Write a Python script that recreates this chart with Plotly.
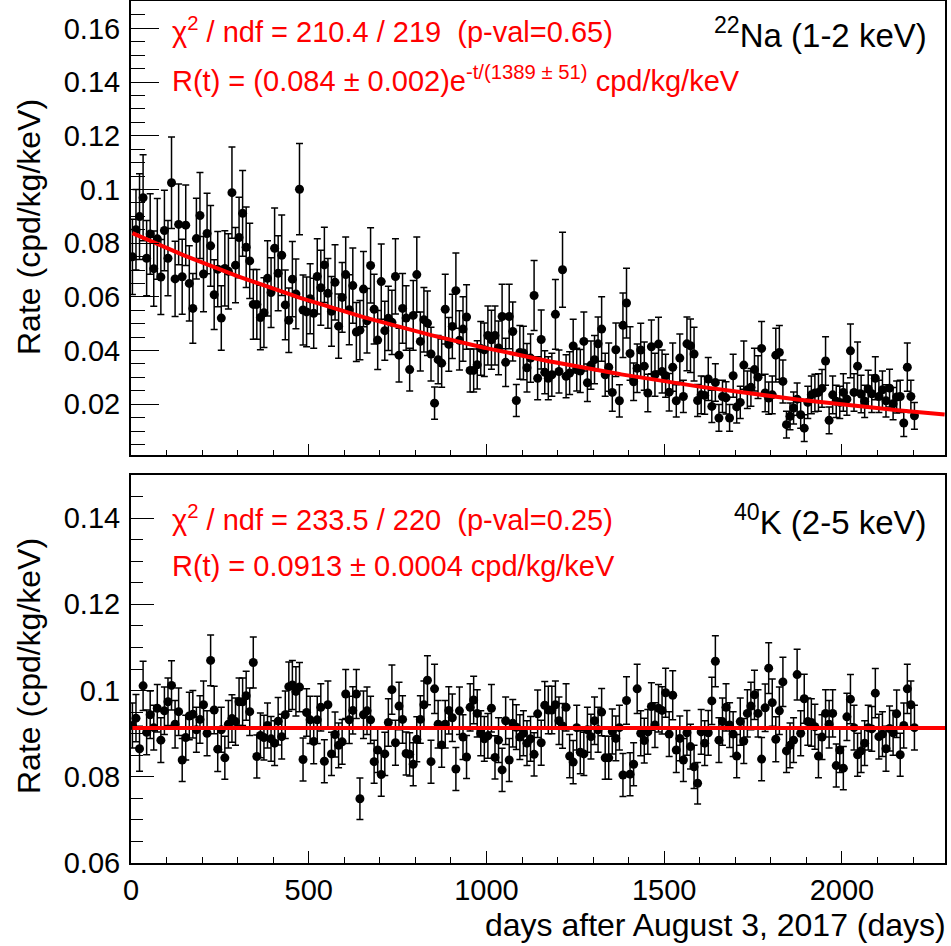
import math
import plotly.graph_objects as go

# ---------------- data ----------------
days = list(range(4, 2205, 10))  # 221 bins, 10-day spacing

na22_rate = [
    0.0749, 0.0850, 0.0899, 0.0969, 0.0744, 0.0834, 0.0705, 0.0816, 0.0674, 0.0847,
    0.0744, 0.1025, 0.0667, 0.0870, 0.0675, 0.0867, 0.0650, 0.0557, 0.0817, 0.0903,
    0.0685, 0.0836, 0.0790, 0.0608, 0.0703, 0.0521, 0.0706, 0.0695, 0.0988, 0.0718,
    0.0821, 0.0911, 0.0785, 0.0734, 0.0572, 0.0572, 0.0523, 0.0541, 0.0669, 0.0616,
    0.0781, 0.0688, 0.0755, 0.0570, 0.0513, 0.0666, 0.0611, 0.1001, 0.0551, 0.0544,
    0.0593, 0.0539, 0.0676, 0.0634, 0.0719, 0.0613, 0.0546, 0.0654, 0.0491, 0.0598,
    0.0683, 0.0552, 0.0642, 0.0469, 0.0476, 0.0629, 0.0511, 0.0717, 0.0554, 0.0439,
    0.0657, 0.0474, 0.0520, 0.0505, 0.0676, 0.0383, 0.0557, 0.0521, 0.0329, 0.0531,
    0.0683, 0.0434, 0.0515, 0.0502, 0.0387, 0.0204, 0.0366, 0.0353, 0.0554, 0.0423,
    0.0490, 0.0623, 0.0438, 0.0480, 0.0525, 0.0326, 0.0326, 0.0347, 0.0408, 0.0403,
    0.0456, 0.0440, 0.0456, 0.0410, 0.0527, 0.0356, 0.0527, 0.0471, 0.0214, 0.0393,
    0.0391, 0.0336, 0.0372, 0.0605, 0.0297, 0.0441, 0.0319, 0.0297, 0.0310, 0.0535,
    0.0322, 0.0701, 0.0304, 0.0316, 0.0417, 0.0329, 0.0324, 0.0434, 0.0280, 0.0346,
    0.0366, 0.0425, 0.0480, 0.0310, 0.0338, 0.0244, 0.0403, 0.0213, 0.0494, 0.0577,
    0.0389, 0.0284, 0.0334, 0.0402, 0.0342, 0.0242, 0.0414, 0.0310, 0.0424, 0.0322,
    0.0306, 0.0245, 0.0338, 0.0213, 0.0372, 0.0229, 0.0425, 0.0418, 0.0387, 0.0214,
    0.0235, 0.0233, 0.0294, 0.0192, 0.0281, 0.0149, 0.0229, 0.0224, 0.0149, 0.0306,
    0.0190, 0.0207, 0.0346, 0.0254, 0.0263, 0.0329, 0.0301, 0.0408, 0.0242, 0.0223,
    0.0235, 0.0383, 0.0393, 0.0285, 0.0124, 0.0155, 0.0186, 0.0219, 0.0161, 0.0111,
    0.0207, 0.0235, 0.0242, 0.0244, 0.0259, 0.0361, 0.0140, 0.0235, 0.0211, 0.0207,
    0.0244, 0.0219, 0.0399, 0.0244, 0.0342, 0.0238, 0.0211, 0.0257, 0.0239, 0.0297,
    0.0229, 0.0254, 0.0213, 0.0260, 0.0202, 0.0227, 0.0229, 0.0130, 0.0338, 0.0229,
    0.0157,
]

na22_err = [
    0.014, 0.015, 0.016, 0.016, 0.014, 0.015, 0.014, 0.015, 0.014, 0.015,
    0.014, 0.017, 0.014, 0.015, 0.014, 0.015, 0.014, 0.013, 0.015, 0.016,
    0.014, 0.015, 0.015, 0.013, 0.014, 0.012, 0.014, 0.014, 0.017, 0.014,
    0.015, 0.016, 0.015, 0.014, 0.013, 0.013, 0.012, 0.013, 0.014, 0.013,
    0.015, 0.014, 0.015, 0.013, 0.012, 0.014, 0.013, 0.017, 0.013, 0.013,
    0.013, 0.013, 0.014, 0.014, 0.014, 0.013, 0.013, 0.014, 0.012, 0.013,
    0.014, 0.013, 0.014, 0.011, 0.011, 0.014, 0.012, 0.014, 0.013, 0.011,
    0.014, 0.011, 0.012, 0.012, 0.014, 0.010, 0.013, 0.012, 0.008, 0.013,
    0.014, 0.011, 0.012, 0.012, 0.010, 0.006, 0.009, 0.009, 0.013, 0.010,
    0.012, 0.014, 0.011, 0.012, 0.012, 0.008, 0.008, 0.009, 0.010, 0.010,
    0.011, 0.011, 0.011, 0.010, 0.012, 0.009, 0.012, 0.011, 0.006, 0.010,
    0.010, 0.009, 0.009, 0.013, 0.008, 0.011, 0.008, 0.008, 0.008, 0.013,
    0.008, 0.014, 0.008, 0.008, 0.010, 0.008, 0.008, 0.011, 0.007, 0.009,
    0.009, 0.010, 0.012, 0.008, 0.009, 0.007, 0.010, 0.006, 0.012, 0.013,
    0.010, 0.007, 0.009, 0.010, 0.009, 0.007, 0.010, 0.008, 0.010, 0.008,
    0.008, 0.007, 0.009, 0.006, 0.009, 0.006, 0.010, 0.010, 0.010, 0.006,
    0.007, 0.007, 0.008, 0.006, 0.007, 0.005, 0.006, 0.006, 0.005, 0.008,
    0.006, 0.006, 0.009, 0.007, 0.007, 0.008, 0.008, 0.010, 0.007, 0.006,
    0.007, 0.010, 0.010, 0.008, 0.005, 0.005, 0.006, 0.006, 0.005, 0.005,
    0.006, 0.007, 0.007, 0.007, 0.007, 0.009, 0.005, 0.007, 0.006, 0.006,
    0.007, 0.006, 0.010, 0.007, 0.009, 0.007, 0.006, 0.007, 0.007, 0.008,
    0.006, 0.007, 0.006, 0.007, 0.006, 0.006, 0.006, 0.005, 0.009, 0.006,
    0.005,
]

k40_rate = [
    0.0919, 0.0936, 0.0865, 0.1011, 0.0903, 0.0944, 0.0914, 0.0959, 0.0885, 0.0953,
    0.0974, 0.1012, 0.0922, 0.0951, 0.0839, 0.0891, 0.0941, 0.0945, 0.0909, 0.0933,
    0.0967, 0.0901, 0.1070, 0.0955, 0.0864, 0.0909, 0.0844, 0.0922, 0.0935, 0.0928,
    0.0974, 0.0974, 0.0988, 0.0951, 0.1065, 0.0847, 0.0896, 0.0891, 0.0919, 0.0888,
    0.0878, 0.0929, 0.0893, 0.0944, 0.1009, 0.1013, 0.0998, 0.1008, 0.0840, 0.0949,
    0.0932, 0.0882, 0.0932, 0.0961, 0.0836, 0.0967, 0.0853, 0.0898, 0.0873, 0.0881,
    0.0992, 0.0932, 0.0954, 0.0992, 0.0749, 0.0944, 0.0953, 0.0932, 0.0835, 0.0862,
    0.0805, 0.0853, 0.0926, 0.1002, 0.0879, 0.0964, 0.0933, 0.0854, 0.0852, 0.0829,
    0.0887, 0.0933, 0.0967, 0.1024, 0.0835, 0.1004, 0.0922, 0.0874, 0.0922, 0.0954,
    0.0937, 0.0818, 0.0953, 0.0892, 0.0846, 0.0961, 0.0978, 0.0947, 0.0901, 0.0888,
    0.0895, 0.0959, 0.0845, 0.0885, 0.0816, 0.0930, 0.0839, 0.0924, 0.0915, 0.0892,
    0.0901, 0.0878, 0.0888, 0.0852, 0.0946, 0.0879, 0.0966, 0.0955, 0.0955, 0.0967,
    0.0930, 0.0918, 0.0961, 0.0848, 0.0834, 0.0914, 0.0857, 0.0853, 0.0909, 0.0893,
    0.0930, 0.0909, 0.0950, 0.0844, 0.0844, 0.0905, 0.0889, 0.0914, 0.0804, 0.0977,
    0.0806, 0.0829, 0.1004, 0.0901, 0.0884, 0.0904, 0.0963, 0.0920, 0.0959, 0.0954,
    0.0995, 0.0899, 0.0989, 0.0862, 0.0889, 0.0839, 0.0902, 0.0870, 0.0823, 0.0785,
    0.0904, 0.0878, 0.0902, 0.0976, 0.1068, 0.0885, 0.0928, 0.0961, 0.0920, 0.0899,
    0.0848, 0.0928, 0.0883, 0.0947, 0.0964, 0.0990, 0.0947, 0.0841, 0.0960, 0.1052,
    0.0972, 0.0887, 0.0953, 0.1020, 0.0860, 0.0873, 0.0885, 0.1037, 0.0901, 0.0981,
    0.0928, 0.0926, 0.0916, 0.0848, 0.0892, 0.0947, 0.0922, 0.0947, 0.0826, 0.0862,
    0.0820, 0.0939, 0.0980, 0.0914, 0.0851, 0.0860, 0.0878, 0.0914, 0.0911, 0.0994,
    0.0893, 0.0899, 0.0865, 0.0912, 0.0902, 0.0946, 0.0851, 0.0919, 0.1004, 0.0967,
    0.0914,
]

k40_err = [
    0.0052, 0.0055, 0.0052, 0.0057, 0.0052, 0.0055, 0.0052, 0.0055, 0.0052, 0.0055,
    0.0055, 0.0057, 0.0055, 0.0055, 0.0050, 0.0052, 0.0055, 0.0055, 0.0052, 0.0055,
    0.0055, 0.0052, 0.0059, 0.0055, 0.0052, 0.0052, 0.0050, 0.0055, 0.0055, 0.0055,
    0.0055, 0.0055, 0.0057, 0.0055, 0.0059, 0.0050, 0.0052, 0.0052, 0.0052, 0.0052,
    0.0052, 0.0055, 0.0052, 0.0055, 0.0057, 0.0057, 0.0057, 0.0057, 0.0050, 0.0055,
    0.0055, 0.0052, 0.0055, 0.0055, 0.0050, 0.0055, 0.0050, 0.0052, 0.0052, 0.0052,
    0.0057, 0.0055, 0.0055, 0.0057, 0.0048, 0.0055, 0.0055, 0.0055, 0.0050, 0.0052,
    0.0050, 0.0050, 0.0055, 0.0057, 0.0052, 0.0055, 0.0055, 0.0050, 0.0050, 0.0050,
    0.0052, 0.0055, 0.0055, 0.0057, 0.0050, 0.0057, 0.0055, 0.0052, 0.0055, 0.0055,
    0.0055, 0.0050, 0.0055, 0.0052, 0.0050, 0.0055, 0.0055, 0.0055, 0.0052, 0.0052,
    0.0052, 0.0055, 0.0050, 0.0052, 0.0050, 0.0055, 0.0050, 0.0055, 0.0052, 0.0052,
    0.0052, 0.0052, 0.0052, 0.0050, 0.0055, 0.0052, 0.0055, 0.0055, 0.0055, 0.0055,
    0.0055, 0.0052, 0.0055, 0.0050, 0.0050, 0.0052, 0.0050, 0.0050, 0.0052, 0.0052,
    0.0055, 0.0052, 0.0055, 0.0050, 0.0050, 0.0052, 0.0052, 0.0052, 0.0050, 0.0055,
    0.0050, 0.0050, 0.0057, 0.0052, 0.0052, 0.0052, 0.0055, 0.0052, 0.0055, 0.0055,
    0.0057, 0.0052, 0.0057, 0.0052, 0.0052, 0.0050, 0.0052, 0.0052, 0.0050, 0.0048,
    0.0052, 0.0052, 0.0052, 0.0055, 0.0059, 0.0052, 0.0055, 0.0055, 0.0052, 0.0052,
    0.0050, 0.0055, 0.0052, 0.0055, 0.0055, 0.0057, 0.0055, 0.0050, 0.0055, 0.0059,
    0.0055, 0.0052, 0.0055, 0.0057, 0.0050, 0.0052, 0.0052, 0.0059, 0.0052, 0.0057,
    0.0055, 0.0055, 0.0052, 0.0050, 0.0052, 0.0055, 0.0055, 0.0055, 0.0050, 0.0052,
    0.0050, 0.0055, 0.0057, 0.0052, 0.0050, 0.0050, 0.0052, 0.0052, 0.0052, 0.0057,
    0.0052, 0.0052, 0.0052, 0.0052, 0.0052, 0.0055, 0.0050, 0.0052, 0.0057, 0.0055,
    0.0052,
]

# fit parameters (from the chart text)
na22_amp, na22_tau = 0.084, 1389.0
k40_const = 0.0913
fit_days = [4, 2290]

xticks = [0, 500, 1000, 1500, 2000]
xtick_labels = ["0", "500", "1000", "1500", "2000"]
top_yticks = [0.02, 0.04, 0.06, 0.08, 0.1, 0.12, 0.14, 0.16]
top_ytick_labels = ["0.02", "0.04", "0.06", "0.08", "0.1", "0.12", "0.14", "0.16"]
bot_yticks = [0.06, 0.08, 0.1, 0.12, 0.14]
bot_ytick_labels = ["0.06", "0.08", "0.1", "0.12", "0.14"]

# ---------------- figure ----------------
W, H = 951, 946
FONT = "Liberation Sans, Arial, Helvetica, sans-serif"

def px_x(p):
    return p / W

def px_y(p):
    return 1 - p / H

fig = go.Figure()

marker = dict(color="black", size=9, symbol="circle")
err_style = dict(color="black", thickness=1.5, width=3.5)

fig.add_trace(go.Scatter(
    x=days, y=na22_rate, mode="markers", marker=marker,
    error_y=dict(type="data", array=na22_err, visible=True, **err_style),
    xaxis="x", yaxis="y", showlegend=False, hoverinfo="x+y"))

fit_t = list(range(fit_days[0], fit_days[1] + 1, 5))
fig.add_trace(go.Scatter(
    x=fit_t, y=[na22_amp * math.exp(-t / na22_tau) for t in fit_t],
    mode="lines", line=dict(color="#ff0000", width=4),
    xaxis="x", yaxis="y", showlegend=False, hoverinfo="skip"))

fig.add_trace(go.Scatter(
    x=days, y=k40_rate, mode="markers", marker=marker,
    error_y=dict(type="data", array=k40_err, visible=True, **err_style),
    xaxis="x2", yaxis="y2", showlegend=False, hoverinfo="x+y"))

fig.add_trace(go.Scatter(
    x=fit_days, y=[k40_const, k40_const],
    mode="lines", line=dict(color="#ff0000", width=4),
    xaxis="x2", yaxis="y2", showlegend=False, hoverinfo="skip"))

xdom = [px_x(131), px_x(945)]
top_dom = [px_y(455), px_y(1)]
bot_dom = [px_y(863), px_y(475)]

axis_common = dict(showline=True, linecolor="black", linewidth=2, mirror=True,
                   showgrid=False, zeroline=False, ticks="inside",
                   tickcolor="black", tickwidth=1, automargin=False,
                   tickfont=dict(family=FONT, size=29, color="black"))

fig.update_layout(
    width=W, height=H,
    margin=dict(l=0, r=0, t=0, b=0, autoexpand=False),
    paper_bgcolor="white", plot_bgcolor="white",
    font=dict(family=FONT, color="black"),
    xaxis=dict(domain=xdom, range=[0, 2290], anchor="y",
               tickvals=xticks, showticklabels=False, ticklen=11,
               minor=dict(dtick=100, tick0=0, ticklen=5, ticks="inside",
                          tickcolor="black", tickwidth=1),
               **axis_common),
    yaxis=dict(domain=top_dom, range=[0.0011, 0.1702], anchor="x",
               tickvals=top_yticks, ticktext=top_ytick_labels, ticklen=28,
               ticklabelstandoff=3,
               minor=dict(dtick=0.005, tick0=0, ticklen=14, ticks="inside",
                          tickcolor="black", tickwidth=1),
               **axis_common),
    xaxis2=dict(domain=xdom, range=[0, 2290], anchor="y2",
                tickvals=xticks, ticktext=xtick_labels, ticklen=12,
                ticklabelstandoff=0,
                minor=dict(dtick=100, tick0=0, ticklen=6, ticks="inside",
                           tickcolor="black", tickwidth=1),
                **axis_common),
    yaxis2=dict(domain=bot_dom, range=[0.06, 0.15], anchor="x2",
                tickvals=bot_yticks, ticktext=bot_ytick_labels, ticklen=23,
                ticklabelstandoff=3,
                minor=dict(dtick=0.005, tick0=0, ticklen=12, ticks="inside",
                           tickcolor="black", tickwidth=1),
                **axis_common),
)

RED = "#ff0000"
ann = []
def text(x, y, s, size, color="black", xanchor="left", angle=0, yanchor="middle"):
    ann.append(dict(x=px_x(x), y=px_y(y), xref="paper", yref="paper", text=s,
                    showarrow=False, xanchor=xanchor, yanchor=yanchor,
                    textangle=angle,
                    font=dict(family=FONT, size=size, color=color)))

nb = "\u00a0"
text(170, 30, "\u03c7<sup>2</sup> / ndf = 210.4 / 219" + nb * 2 + "(p-val=0.65)", 29, RED)
text(170, 79, "R(t) = (0.084 \u00b1 0.002)e<sup>-t/(1389 \u00b1 51)</sup> cpd/kg/keV", 29, RED)
text(929, 33, "<sup>22</sup>Na (1-2 keV)", 33, "black", xanchor="right")

text(170, 518, "\u03c7<sup>2</sup> / ndf = 233.5 / 220" + nb * 2 + "(p-val=0.25)", 29, RED)
text(170, 566, "R(t) = 0.0913 \u00b1 0.0004 cpd/kg/keV", 29, RED)
text(929, 520, "<sup>40</sup>K (2-5 keV)", 33, "black", xanchor="right")

text(29, 227, "Rate" + nb + "(cpd/kg/keV)", 32, angle=-90, xanchor="center")
text(29, 666, "Rate" + nb + "(cpd/kg/keV)", 32, angle=-90, xanchor="center")
text(948, 905, "days after August 3, 2017 (days)", 32, xanchor="right", yanchor="top")

fig.update_layout(annotations=ann)
fig.write_html("out.html")
